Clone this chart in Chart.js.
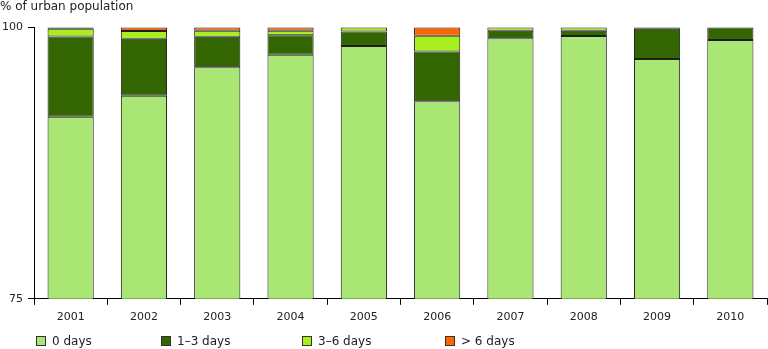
<!DOCTYPE html>
<html>
<head>
<meta charset="utf-8">
<script src="https://cdn.jsdelivr.net/npm/chart.js@4/dist/chart.umd.min.js"></script>
<style>
  body { margin: 0; background: #fff; }
  #wrap { position: relative; width: 768px; height: 349px; }
  #legend { position: absolute; left: 0; top: 335px; width: 768px; height: 14px;
            font: 12px "DejaVu Sans", Verdana, sans-serif; color: #222; }
  .item { position: absolute; top: 0; white-space: nowrap; line-height: 13px; }
  .box { display: inline-block; width: 8px; height: 8px; border: 1px solid #333;
         vertical-align: -1px; margin-right: 6px; }
</style>
</head>
<body>
<div id="wrap">
  <canvas id="urbanChart" width="768" height="349"></canvas>
  <div id="legend"></div>
</div>
<script>
// valores (% de población urbana)
const years = ['2001', '2002', '2003', '2004', '2005', '2006', '2007', '2008', '2009', '2010'];
const zeroDays   = [91.78, 93.71, 96.34, 97.49, 98.28, 93.19, 98.99, 99.2, 97.08, 98.83];
const oneToThree = [7.39, 5.25, 2.8, 1.78, 1.35, 4.58, 0.71, 0.5, 2.8, 1.17];
const threeToSix = [0.71, 0.7, 0.55, 0.43, 0.37, 1.47, 0.3, 0.3, null, null];
const overSix    = [0.12, 0.34, 0.3, 0.3, null, 0.76, null, null, 0.12, null];
const yTicks = [75, 100];

const font = { family: '"DejaVu Sans", Verdana, sans-serif', size: 11 };

function bars(label, data, color) {
    return {
        label: label,
        data: data,
        backgroundColor: color,
        borderColor: '#1e1e1e',
        borderWidth: 1,
        borderSkipped: false,
        barPercentage: 0.63,
        categoryPercentage: 1,
        // deja ver el borde superior de la barra en 100
        clip: { left: 2, top: 2, right: 2, bottom: 0 }
    };
}

const ctx = document.getElementById('urbanChart').getContext('2d');
const chart = new Chart(ctx, {
    type: 'bar',
    data: {
        labels: years,
        datasets: [
            bars('0 days', zeroDays, '#a9e673'),
            bars('1–3 days', oneToThree, '#336600'),
            bars('3–6 days', threeToSix, '#a8ef1e'),
            bars('> 6 days', overSix, '#ff6600')
        ]
    },
    options: {
        responsive: false,
        animation: false,
        layout: { padding: { left: 0, right: 1, top: 0, bottom: 19 } },
        plugins: {
            legend: { display: false },
            tooltip: { enabled: false },
            title: {
                display: true,
                text: '% of urban population',
                align: 'start',
                color: '#222',
                font: { family: font.family, size: 12, weight: 'normal' },
                padding: { top: 0, bottom: 13 }
            }
        },
        scales: {
            x: {
                stacked: true,
                grid: { display: true, drawOnChartArea: false, color: '#000', tickLength: 6, offset: true },
                border: { color: '#000', width: 1 },
                ticks: { color: '#222', font: font, padding: 6, maxRotation: 0 }
            },
            y: {
                stacked: true,
                min: 75,
                max: 100,
                afterBuildTicks: (scale) => { scale.ticks = yTicks.map(v => ({ value: v })); },
                afterFit: (scale) => { scale.width = 34; },
                grid: { display: true, drawOnChartArea: false, color: '#000', tickLength: 6 },
                border: { color: '#000', width: 1 },
                ticks: { color: '#222', font: font, padding: 5 }
            }
        }
    }
});

// leyenda en HTML, con las posiciones del original
const legendLeft = [36, 161, 302, 445];
const legendEl = document.getElementById('legend');
chart.data.datasets.forEach((ds, i) => {
    const item = document.createElement('span');
    item.className = 'item';
    item.style.left = legendLeft[i] + 'px';
    item.innerHTML = '<span class="box" style="background:' + ds.backgroundColor + '"></span>' + ds.label;
    legendEl.appendChild(item);
});
</script>
</body>
</html>
